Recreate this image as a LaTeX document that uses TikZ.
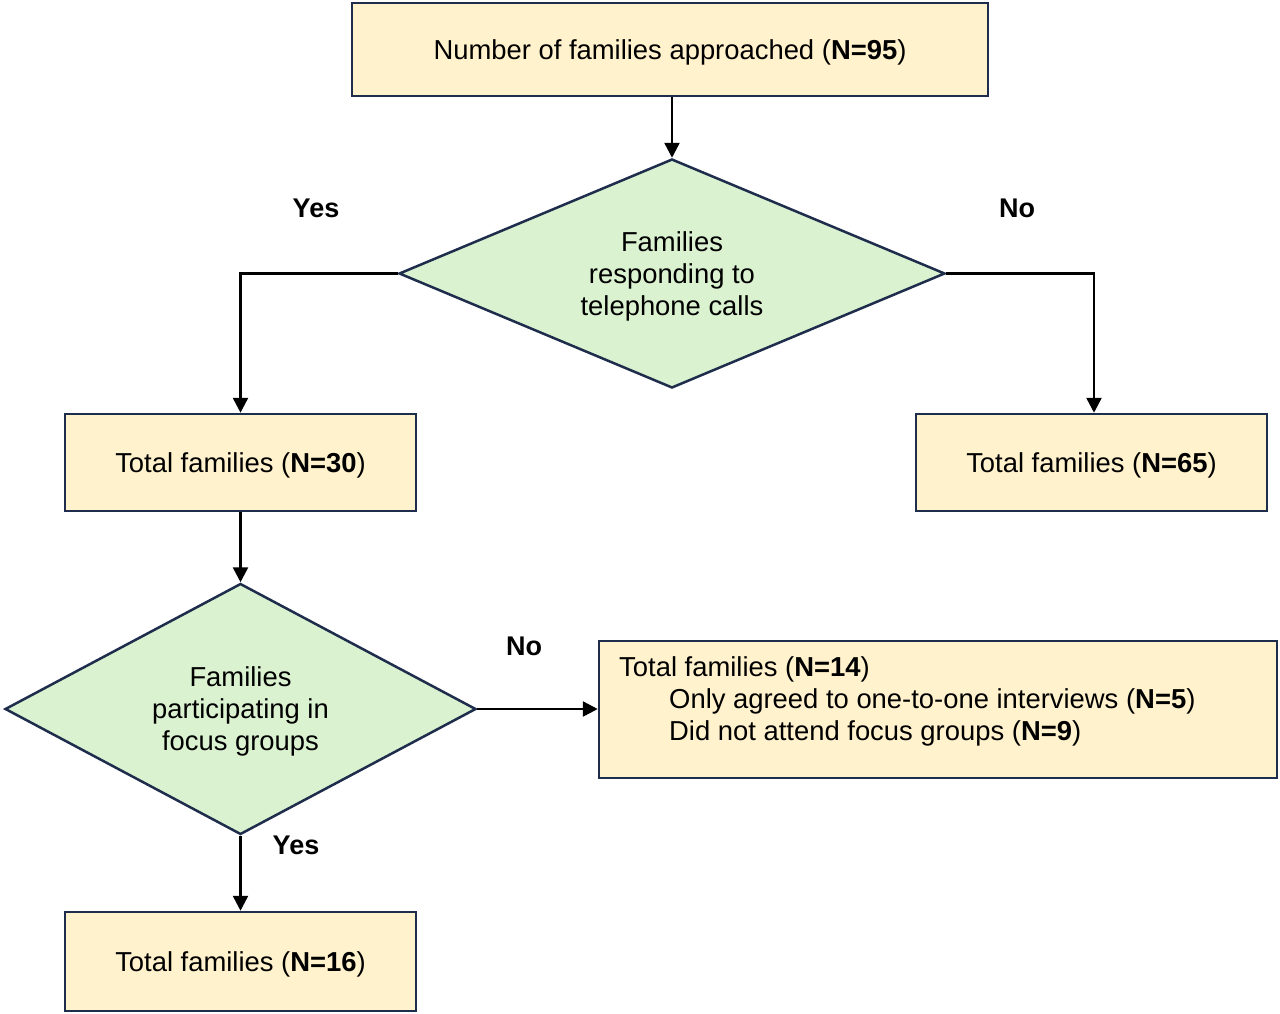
\documentclass[tikz,border=0pt]{standalone}
\usepackage{fontspec}
\setmainfont{Liberation Sans}
\usetikzlibrary{shapes.geometric,arrows.meta}
\definecolor{boxfill}{HTML}{FFF2CC}
\definecolor{diafill}{HTML}{DAF2D0}
\definecolor{edge}{HTML}{1F2D4D}
\tikzset{
  x=1pt, y=-1pt,
  every node/.style={font=\fontsize{27.4}{32}\selectfont, inner sep=0pt, text depth=0pt},
  boxnode/.style={draw=edge, fill=boxfill, line width=2.5pt, rectangle, align=center},
  dianode/.style={draw=edge, fill=diafill, line width=2.5pt, diamond, align=center},
  lab/.style={font=\fontsize{27}{32}\selectfont\bfseries},
  arr/.style={draw=black, line width=2.5pt, -{Triangle[length=15pt,width=15pt]}},
}
\begin{document}
\begin{tikzpicture}
\useasboundingbox (0,0) rectangle (1280,1013);
\fill[white] (0,0) rectangle (1280,1013);

\node[boxnode, minimum width=636pt, minimum height=93pt] (top) at (670,49.5)
  {Number of families approached (\textbf{N=95})};
\node[dianode, shape aspect=2.384, minimum width=546pt, minimum height=229pt] (d1) at (672,273.5)
  {Families\\responding to\\telephone calls};
\node[boxnode, minimum width=351pt, minimum height=97pt] (n30) at (240.5,462.5)
  {Total families (\textbf{N=30})};
\node[boxnode, minimum width=351pt, minimum height=97pt] (n65) at (1091.5,462.5)
  {Total families (\textbf{N=65})};
\node[dianode, shape aspect=1.876, minimum width=471pt, minimum height=251pt] (d2) at (240.5,709)
  {Families\\participating in\\focus groups};
\node[boxnode, minimum width=678pt, minimum height=137pt] (n14) at (938,709.5) {};
\node[anchor=west, align=left] (n14text) at (619,699)
  {Total families (\textbf{N=14})\\
   \hspace*{50pt}Only agreed to one-to-one interviews (\textbf{N=5})\\
   \hspace*{50pt}Did not attend focus groups (\textbf{N=9})};
\node[boxnode, minimum width=351pt, minimum height=99pt] (n16) at (240.5,961.5)
  {Total families (\textbf{N=16})};

\node[lab] (yes1) at (316,208) {Yes};
\node[lab] (no1) at (1017,208) {No};
\node[lab] (no2) at (524,646) {No};
\node[lab] (yes2) at (296,845) {Yes};

\draw[arr] (d1.north |- top.south) -- (d1.north);
\draw[arr] (d1.west) -| (n30.north);
\draw[arr] (d1.east) -| ([xshift=2.5pt]n65.north);
\draw[arr] (n30.south) -- (d2.north);
\draw[arr] (d2.east) -- (d2.east -| n14.west);
\draw[arr] (d2.south) -- (n16.north);
\end{tikzpicture}
\end{document}
